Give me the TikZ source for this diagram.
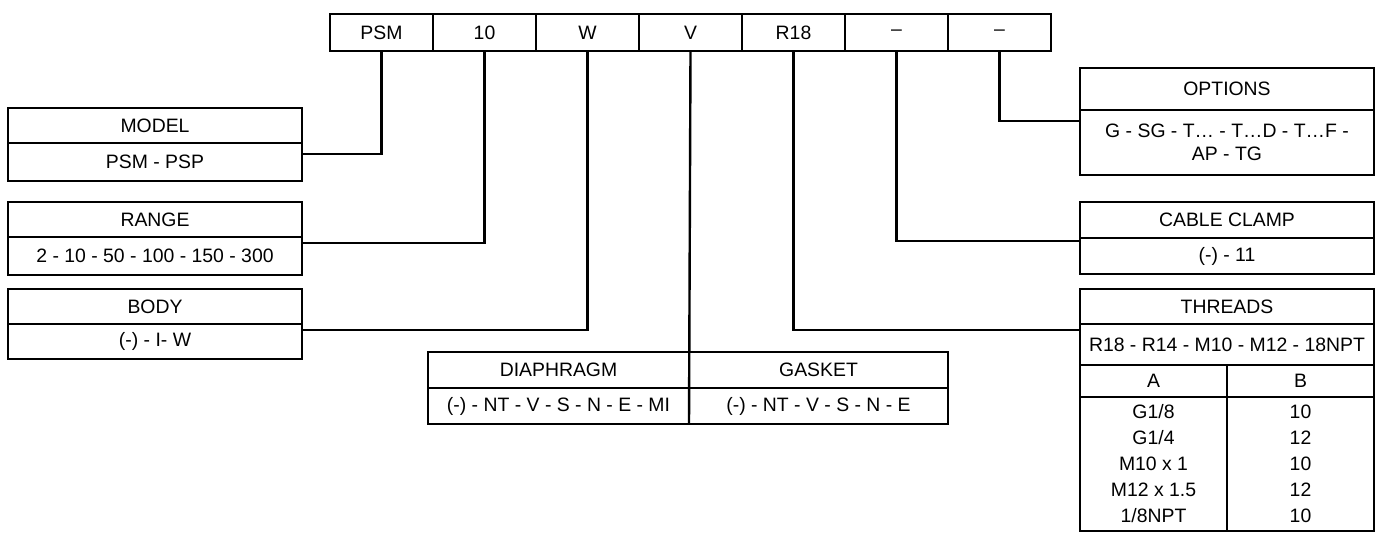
\documentclass[tikz,border=0pt]{standalone}
\usepackage{fontspec}
\setmainfont{Liberation Sans}
\usetikzlibrary{positioning}

\begin{document}
\begin{tikzpicture}[
      x=0.5pt,y=-0.5pt,
      every node/.style={inner sep=0pt,outer sep=0pt,font=\fontsize{9.7}{13}\selectfont},
      cell/.style={draw,line width=0.6pt,minimum width=51.5pt,minimum height=18.5pt},
      head/.style={draw,line width=0.6pt,minimum width=147pt,minimum height=17.5pt},
      half/.style={draw,line width=0.6pt,minimum width=73.5pt,minimum height=17.5pt},
      lead/.style={line width=1.2pt}
    ]
      \useasboundingbox (0,0) rectangle (1380,535);
      % code row
      \node[cell,anchor=north west] (psm) at (330,14) {PSM};
      \node[cell,right=0pt of psm] (ten) {10};
      \node[cell,right=0pt of ten] (w) {W};
      \node[cell,right=0pt of w] (v) {V};
      \node[cell,right=0pt of v] (r18) {R18};
      \node[cell,right=0pt of r18] (dasha) {–};
      \node[cell,right=0pt of dasha] (dashb) {–};
      % left boxes
      \node[head,anchor=north west] (model) at (8,108) {MODEL};
      \node[head,below=0pt of model,minimum height=19pt] (modelv) {PSM - PSP};
      \node[head,anchor=north west] (range) at (8,202) {RANGE};
      \node[head,below=0pt of range,minimum height=19pt] (rangev) {2 - 10 - 50 - 100 - 150 - 300};
      \node[head,anchor=north west] (body) at (8,289) {BODY};
      \node[head,below=0pt of body] (bodyv) {(-) - I- W};
      % middle box
      \node[head,anchor=north west,minimum width=130.5pt,minimum height=18pt] (diaph) at (428,352) {DIAPHRAGM};
      \node[head,below=0pt of diaph,minimum width=130.5pt,minimum height=18pt] (diaphv) {(-) - NT - V - S - N - E - MI};
      \node[head,right=0pt of diaph,minimum width=129.5pt,minimum height=18pt] (gasket) {GASKET};
      \node[head,below=0pt of gasket,minimum width=129.5pt,minimum height=18pt] (gasketv) {(-) - NT - V - S - N - E};
      % right boxes
      \node[head,anchor=north west,minimum height=21pt] (options) at (1080,68) {OPTIONS};
      \node[head,below=0pt of options,minimum height=32.5pt,align=center,
        font=\fontsize{9.7}{11.5}\selectfont] (optionsv) {G - SG - T… - T…D - T…F -\\AP - TG};
      \node[head,anchor=north west,minimum height=18pt] (clamp) at (1080,202) {CABLE CLAMP};
      \node[head,below=0pt of clamp,minimum height=18pt] (clampv) {(-) - 11};
      \node[head,anchor=north west] (threads) at (1080,289) {THREADS};
      \node[head,below=0pt of threads,minimum height=20.5pt] (threadsv) {R18 - R14 - M10 - M12 - 18NPT};
      \node[half,below=0pt of threadsv.south west,anchor=north west,minimum height=16pt] (cola) {A};
      \node[half,right=0pt of cola,minimum height=16pt] (colb) {B};
      \node[half,below=0pt of cola,minimum height=67pt,align=center] (vala)
        {G1/8\\G1/4\\M10 x 1\\M12 x 1.5\\1/8NPT};
      \node[half,below=0pt of colb,minimum height=67pt,align=center] (valb)
        {10\\12\\10\\12\\10};
      % leads
      \draw[lead] (psm.south) |- ([yshift=-5.5pt]modelv.north east);
      \draw[lead] (ten.south) |- ([yshift=-3pt]rangev.north east);
      \draw[lead] (w.south) |- ([yshift=-3pt]bodyv.north east);
      \draw[lead] (v.south) -- (diaphv.south east);
      \draw[lead] (r18.south) |- ([yshift=-3pt]threadsv.north west);
      \draw[lead] (dasha.south) |- ([yshift=-1.5pt]clampv.north west);
      \draw[lead] (dashb.south) |- ([yshift=-5.5pt]optionsv.north west);
    \end{tikzpicture}
\end{document}
